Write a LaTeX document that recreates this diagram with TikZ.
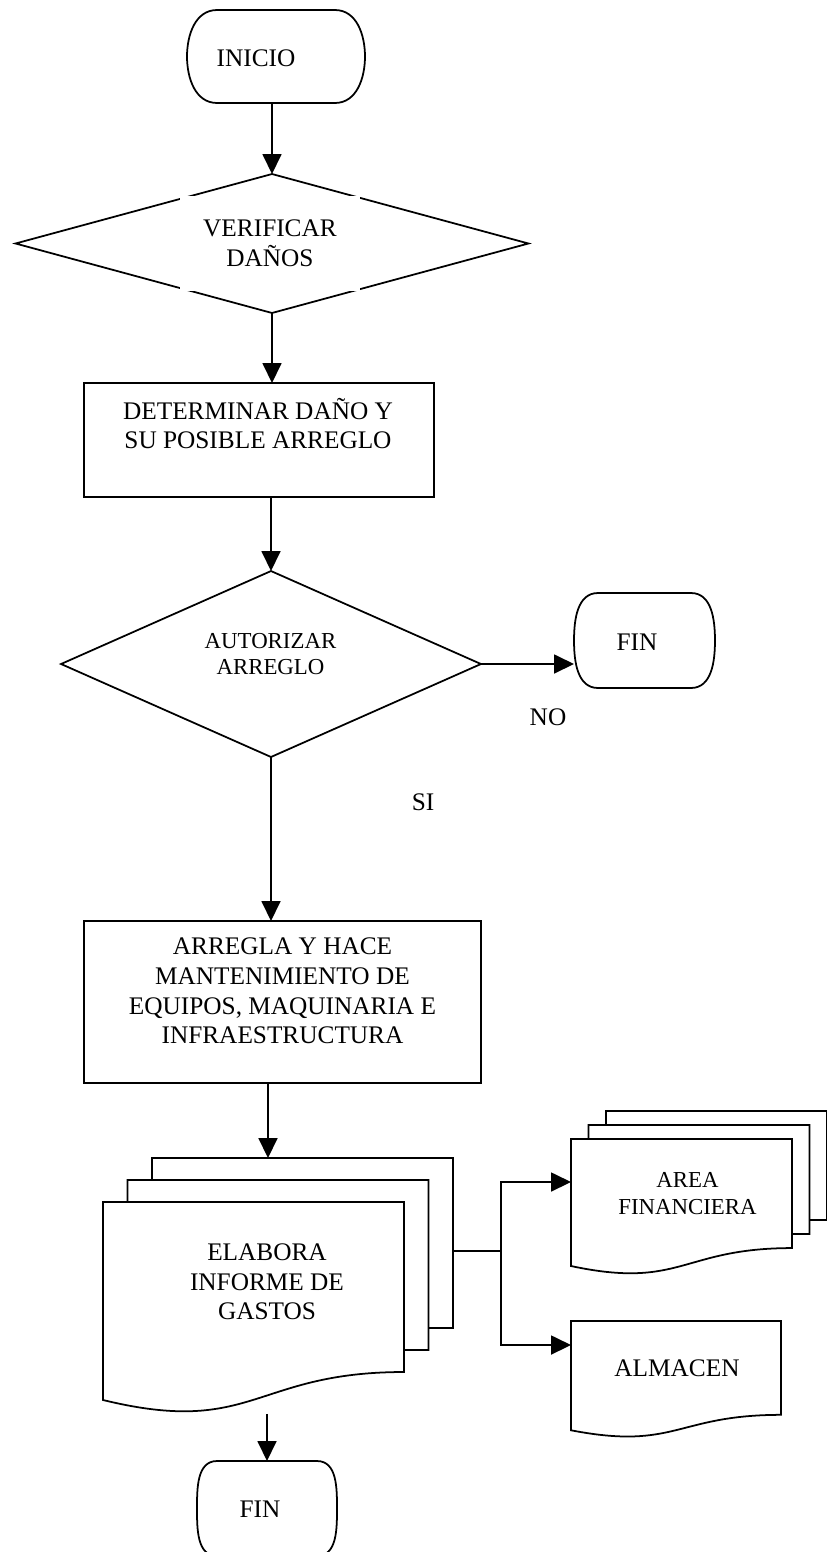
\documentclass[tikz,border=0pt]{standalone}
\usepackage{fontspec}
\setmainfont{Liberation Serif}
\usepackage{tikz}
\usetikzlibrary{positioning,arrows.meta,shapes.geometric,calc}
\newcommand{\fmain}{\fontsize{14.4}{16.8}\selectfont}
\newcommand{\fsmall}{\fontsize{13}{15.2}\selectfont}
\tikzset{
  node-box/.style={draw,line width=1pt,inner sep=0pt,outer sep=0pt},
  node-decision/.style={draw,diamond,line width=1pt,inner sep=0pt,outer sep=0pt},
  node-frame/.style={inner sep=0pt,outer sep=0pt},
  node-text/.style={align=center,font=\fmain,inner sep=0pt},
  node-text-small/.style={node-text,font=\fsmall},
  flow-line/.style={line width=1pt,draw=black},
  arrow/.style={-{Triangle[length=4mm,width=3.8mm]},line width=1pt,draw=black},
}
% terminal: flat top and bottom, bulged sides
\newcommand{\drawterminal}[2]{%
  \draw[flow-line] ([xshift=#2]#1.north west) -- ([xshift=-#2]#1.north east)
    to[out=0,in=90] (#1.east) to[out=-90,in=0] ([xshift=-#2]#1.south east)
    -- ([xshift=#2]#1.south west) to[out=180,in=-90] (#1.west)
    to[out=90,in=180] ([xshift=#2]#1.north west) -- cycle;}
% document with wavy bottom
\newcommand{\drawdocument}[1]{%
  \coordinate (#1-rb) at ($(#1.north east)!0.802!(#1.south east)$);
  \draw[flow-line] (#1.north west) -- (#1.north east) -- (#1-rb)
    .. controls ($(#1.north)!0.802!(#1.south)$) and ($(#1.north)!1.1075!(#1.south)$)
    .. ($(#1.north west)!0.934!(#1.south west)$) -- cycle;}
% two sheets behind a document
\newcommand{\drawsheets}[3]{%
  \foreach \k/\j in {1/0,2/1}{
    \draw[flow-line] ([shift={(\k*#2,\j*#3)}]#1.north west)
      -- ([shift={(\k*#2,\k*#3)}]#1.north west)
      -- ([shift={(\k*#2,\k*#3)}]#1.north east)
      -- ([shift={(\k*#2,\k*#3)}]#1-rb)
      -- ([shift={(\j*#2,\k*#3)}]#1-rb);
  }}
\begin{document}
\begin{tikzpicture}[x=0.02cm,y=-0.02cm]
  \useasboundingbox (0,0) rectangle (827,1552);
  % shapes
  \node[node-frame,minimum width=3.56cm,minimum height=1.86cm] (inicio) at (276,56.5) {};
  \node[node-decision,minimum width=10.26cm,minimum height=2.78cm] (verif) at (272,243.5) {};
  \node[node-box,minimum width=7cm,minimum height=2.28cm] (determ) at (259,440) {};
  \node[node-decision,minimum width=8.4cm,minimum height=3.72cm] (auth) at (271,664) {};
  \node[node-frame,minimum width=2.82cm,minimum height=1.9cm] (finNo) at (644.5,640.5) {};
  \node[node-box,minimum width=7.94cm,minimum height=3.24cm] (arreg) at (282.5,1002) {};
  \node[node-frame,minimum width=6.02cm,minimum height=4.24cm] (elab) at (253.5,1308) {};
  \node[node-frame,minimum width=4.42cm,minimum height=2.72cm] (area) at (681.5,1207) {};
  \node[node-frame,minimum width=4.2cm,minimum height=2.34cm] (alma) at (676,1379.5) {};
  \node[node-frame,minimum width=2.8cm,minimum height=1.9cm] (finEnd) at (267,1508.5) {};
  \drawterminal{inicio}{6mm}
  \drawterminal{finNo}{4.8mm}
  \drawterminal{finEnd}{4mm}
  \drawdocument{elab}
  \drawsheets{elab}{4.9mm}{4.4mm}
  \drawdocument{area}
  \drawsheets{area}{3.5mm}{2.8mm}
  \drawdocument{alma}
  % texts
  \node[node-text] (inicio-txt) at (256,58) {INICIO};
  \node[node-text,fill=white,minimum width=3.6cm,minimum height=1.9cm] (verif-txt) at (270,243.5) {VERIFICAR\\DAÑOS};
  \node[node-text] (determ-txt) at (258,423.5) {DETERMINAR DAÑO Y\\SU POSIBLE ARREGLO};
  \node[node-text-small] (auth-txt) at (270.5,654) {AUTORIZAR\\ARREGLO};
  \node[node-text] (finNo-txt) at (637,642) {FIN};
  \node[node-text] (no-txt) at (548,717) {NO};
  \node[node-text] (si-txt) at (423,802) {SI};
  \node[node-text] (arreg-txt) at (282.5,991) {ARREGLA Y HACE\\MANTENIMIENTO DE\\EQUIPOS, MAQUINARIA E\\INFRAESTRUCTURA};
  \node[node-text] (elab-txt) at (267,1282) {ELABORA\\INFORME DE\\GASTOS};
  \node[node-text-small] (area-txt) at (687.5,1193.5) {AREA\\FINANCIERA};
  \node[node-text] (alma-txt) at (677,1368) {ALMACEN};
  \node[node-text] (finEnd-txt) at (260,1509) {FIN};
  % connectors
  \draw[arrow] (verif.north |- inicio.south) -- (verif.north);
  \draw[arrow] (verif.south) -- (verif.south |- determ.north);
  \draw[arrow] (auth.north |- determ.south) -- (auth.north);
  \draw[arrow] (auth.east) -- (auth.east -| finNo.west);
  \draw[arrow] (auth.south) -- (auth.south |- arreg.north);
  \coordinate (elab-top) at ([shift={(2.9mm,8.8mm)}]elab.north);
  \draw[arrow] (arreg.south -| elab-top) -- (elab-top);
  \draw[arrow] (finEnd.north |- elab.south) -- (finEnd.north);
  \coordinate (split) at (501,1251);
  \draw[flow-line] ([xshift=9.8mm]elab.east |- split) -- (split);
  \draw[arrow] (split) |- ([yshift=5mm]area.west);
  \draw[arrow] (split) |- ([yshift=6.9mm]alma.west);
\end{tikzpicture}
\end{document}
